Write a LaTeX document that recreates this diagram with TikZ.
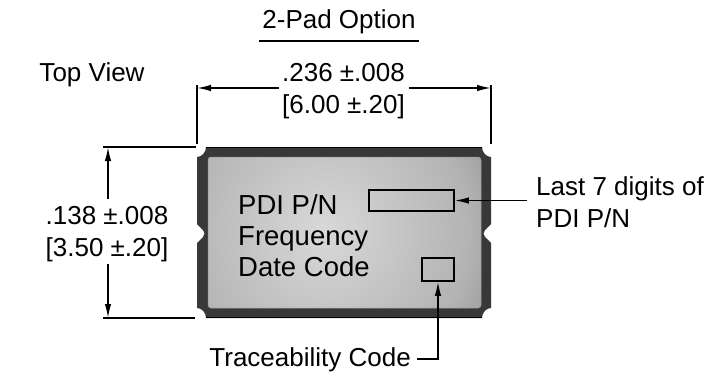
\documentclass[tikz,border=0pt]{standalone}
\usepackage{fontspec}
\setmainfont{Liberation Sans}
\usetikzlibrary{arrows.meta}
\pgfdeclareradialshading{bodyglow}{\pgfpointorigin}{color(0bp)=(black!15); color(23bp)=(black!30); color(36bp)=(black!50); color(49bp)=(black!66); color(55bp)=(black!76); color(70bp)=(black!80)}
\tikzset{
    lbl/.style={inner sep=0pt,font=\fontsize{26}{32}\selectfont,align=center},
    partlbl/.style={inner sep=0pt,anchor=base west,font=\fontsize{27.5}{32}\selectfont},
    dimline/.style={black,line width=1.5pt},
    dimarrow/.style={dimline,-{Latex[length=14pt,width=6.5pt]}}
}
\begin{document}
\begin{tikzpicture}[x=1pt,y=-1pt]
    \useasboundingbox (0,0) rectangle (719,388);
    % body
    \fill[black!78] (206,147) -- (482,147) .. controls (482,152) and (486,157) .. (491,157) -- (491,224) -- (485,230) .. controls (483,232) and (483,235) .. (485,237) -- (491,243) -- (491,308) .. controls (486,308) and (482,313) .. (482,318) -- (206,318) .. controls (206,313) and (202,308) .. (197,308) -- (197,243) -- (203,237) .. controls (205,235) and (205,232) .. (203,230) -- (197,224) -- (197,157) .. controls (202,157) and (206,152) .. (206,147) -- cycle;
    \draw[black,line width=1.2pt] (206,147.5) -- (482,147.5);
    \draw[black,line width=1.2pt] (206,317.5) -- (482,317.5);
    \begin{scope}
        \clip[rounded corners=3pt] (208,157) rectangle (481,308);
        \shade[shading=bodyglow] (164,72) rectangle (484,392);
    \end{scope}
    \draw[black!40,line width=0.5pt,rounded corners=3pt] (208,157) rectangle (481,308);
    % text on the part
    \node[partlbl] (pn) at (238,214) {PDI P/N};
    \node[partlbl] (freq) at (238,245) {Frequency};
    \node[partlbl] (date) at (238,276) {Date Code};
    \node[draw,line width=1.5pt,minimum width=85pt,minimum height=21pt,inner sep=0pt] (pnbox) at (411.5,200.5) {};
    \node[draw,line width=1.5pt,minimum width=32pt,minimum height=23pt,inner sep=0pt] (tracebox) at (438,269.5) {};
    % labels
    \node[lbl] (title) at (339,22) {2-Pad Option};
    \node[lbl] (topview) at (92,75) {Top View};
    \node[lbl] (width) at (343.5,91) {.236 ±.008\\{[6.00 ±.20]}};
    \node[lbl] (height) at (107,234) {.138 ±.008\\{[3.50 ±.20]}};
    \node[lbl,anchor=west,align=left] (last) at (536,202) {Last 7 digits of\\PDI P/N};
    \node[lbl,anchor=east] (trace) at (411,360) {Traceability Code};
    \coordinate (titlea) at (259,41);
    \coordinate (titleb) at (419,41);
    \draw[dimline] (titlea) -- (titleb);
    % width dimension
    \coordinate (wl) at (197,88);
    \coordinate (wr) at (491,88);
    \coordinate (wla) at (279,88);
    \coordinate (wra) at (409,88);
    \draw[dimline] (197,85) -- (197,144);
    \draw[dimline] (491,85) -- (491,144);
    \draw[dimarrow] (wla) -- (wl);
    \draw[dimarrow] (wra) -- (wr);
    % height dimension
    \coordinate (ha) at (108,199);
    \coordinate (hb) at (108,264);
    \draw[dimline] (103,147) -- (196,147);
    \draw[dimline] (103,318) -- (195,318);
    \draw[dimarrow] (ha) -- (108,147);
    \draw[dimarrow] (hb) -- (108,318);
    % leaders
    \coordinate (lastk) at (527,200.5);
    \draw[dimarrow] (lastk) -- (pnbox.east);
    \coordinate (tracea) at (417,359);
    \coordinate (tracek) at (438,359);
    \draw[dimarrow] (tracea) -- (tracek) -- (tracebox.south);
\end{tikzpicture}
\end{document}
